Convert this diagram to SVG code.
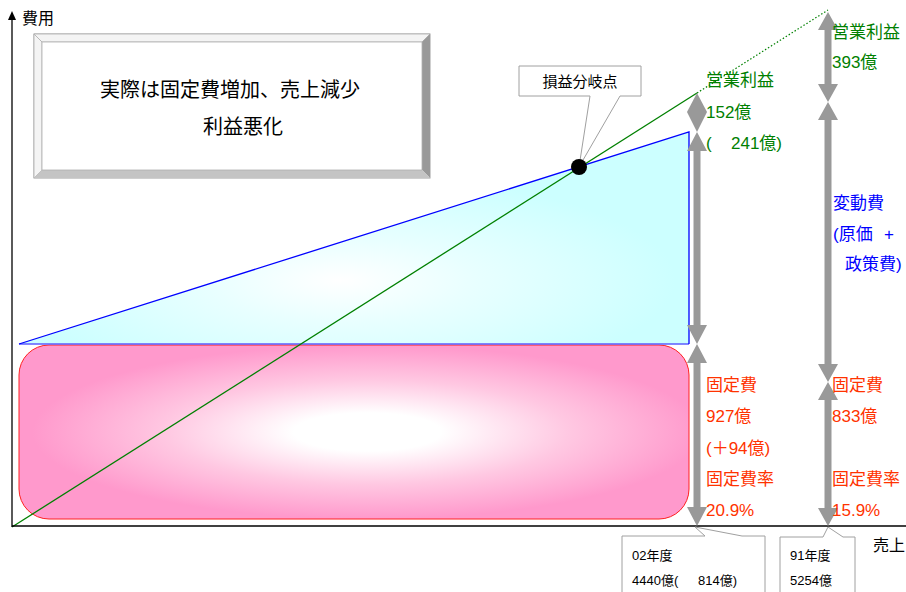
<svg xmlns="http://www.w3.org/2000/svg" width="906" height="592" viewBox="0 0 906 592">
<defs>
<style>
text{font-family:"Liberation Sans","Noto Sans CJK JP",sans-serif}
.lbl{font-size:17px}
.g{fill:#008000}
.b{fill:#0000ff}
.r{fill:#ff3300}
.k{fill:#000}
.sm{font-size:13px}
.arr{fill:#999999}
.call{fill:#ffffff;stroke:#a0a0a0;stroke-width:1}
</style>
<radialGradient id="pinkG" cx="0.52" cy="0.5" r="0.5">
<stop offset="0" stop-color="#ffffff"/>
<stop offset="0.22" stop-color="#ffffff"/>
<stop offset="0.6" stop-color="#ffc8e2"/>
<stop offset="1" stop-color="#ff99cc"/>
</radialGradient>
<radialGradient id="cyanG" cx="0.48" cy="0.7" r="0.5">
<stop offset="0" stop-color="#ffffff"/>
<stop offset="0.4" stop-color="#e8ffff"/>
<stop offset="1" stop-color="#ccffff"/>
</radialGradient>
</defs>
<rect width="906" height="592" fill="#ffffff"/>

<g id="fixed-cost-area">
<rect x="19" y="345" width="670" height="174" rx="30" ry="30" fill="url(#pinkG)" stroke="#ff2020" stroke-width="1"/>
</g>

<g id="variable-cost-area">
<polygon points="19,344 689,132 689,344" fill="url(#cyanG)"/>
<line x1="19" y1="344" x2="689" y2="344" stroke="#5c5cff" stroke-width="1.5"/>
<polyline points="19,344 689,132 689,344" fill="none" stroke="#0000ff" stroke-width="1.3"/>
</g>

<g id="connectors">
<line x1="12" y1="527" x2="697" y2="93" stroke="#008000" stroke-width="1.3"/>
<line x1="697" y1="93" x2="828" y2="10" stroke="#008000" stroke-width="1.2" stroke-dasharray="1.5 2"/>
<line x1="12" y1="527" x2="12" y2="18" stroke="#000" stroke-width="1.3"/>
<polygon points="12,11 16,20 8,20" fill="#000"/>
<line x1="12" y1="526" x2="906" y2="526" stroke="#000" stroke-width="1.3"/>
<polygon class="arr" points="697,93 707,112 697,132 687,112"/>
<polygon class="arr" points="697,132 707,151 700.5,151 700.5,325 707,325 697,344 687,325 693.5,325 693.5,151 687,151"/>
<polygon class="arr" points="697,344 707,363 700.5,363 700.5,507 707,507 697,526 687,507 693.5,507 693.5,363 687,363"/>
<polygon class="arr" points="828,12 838,30 831.5,30 831.5,84 838,84 828,102 818,84 824.5,84 824.5,30 818,30"/>
<polygon class="arr" points="828,102 838,120 831.5,120 831.5,364 838,364 828,382 818,364 824.5,364 824.5,120 818,120"/>
<polygon class="arr" points="828,382 838,400 831.5,400 831.5,508 838,508 828,526 818,508 824.5,508 824.5,400 818,400"/>
</g>

<g id="axis-labels">
<text class="k" x="22" y="24" font-size="16">費用</text>
<text class="k" x="873" y="551" font-size="16">売上</text>
</g>

<g id="title-box">
<rect x="34" y="34" width="396" height="144" fill="#ffffff" stroke="#a0a0a0" stroke-width="1"/>
<polygon points="34,34 430,34 422,42 42,42" fill="#f4f4f4" stroke="#b0b0b0" stroke-width="0.8"/>
<polygon points="34,34 42,42 42,170 34,178" fill="#f4f4f4" stroke="#b0b0b0" stroke-width="0.8"/>
<polygon points="430,34 430,178 422,170 422,42" fill="#999999"/>
<polygon points="34,178 430,178 422,170 42,170" fill="#c4c4c4"/>
<rect x="42" y="42" width="380" height="128" fill="#ffffff" stroke="#b0b0b0" stroke-width="0.8"/>
<text class="k" x="230" y="97" font-size="20" text-anchor="middle">実際は固定費増加、売上減少</text>
<text class="k" x="243" y="134" font-size="20" text-anchor="middle">利益悪化</text>
</g>

<g id="break-even-callout">
<path class="call" d="M519,66 H641 V96 H620 L579,167 L590,96 H519 Z"/>
<text class="k" x="580" y="87" font-size="15" text-anchor="middle">損益分岐点</text>
<circle cx="579" cy="167" r="8" fill="#000"/>
</g>

<g id="label-02-profit">
<text class="lbl g" x="706" y="86">営業利益</text>
<text class="lbl g" x="706" y="118">152億</text>
<text class="lbl g" x="706" y="149">(<tspan x="731">241億)</tspan></text>
</g>

<g id="label-02-fixed">
<text class="lbl r" x="706" y="391">固定費</text>
<text class="lbl r" x="706" y="422">927億</text>
<text class="lbl r" x="706" y="454">(＋94億)</text>
<text class="lbl r" x="706" y="485">固定費率</text>
<text class="lbl r" x="706" y="516">20.9%</text>
</g>

<g id="label-91-profit">
<text class="lbl g" x="832" y="38">営業利益</text>
<text class="lbl g" x="832" y="68">393億</text>
</g>

<g id="label-91-variable">
<text class="lbl b" x="833" y="209">変動費</text>
<text class="lbl b" x="833" y="240">(原価<tspan x="884">+</tspan></text>
<text class="lbl b" x="845" y="270">政策費)</text>
</g>

<g id="label-91-fixed">
<text class="lbl r" x="832" y="391">固定費</text>
<text class="lbl r" x="832" y="422">833億</text>
<text class="lbl r" x="832" y="485">固定費率</text>
<text class="lbl r" x="832" y="516">15.9%</text>
</g>

<g id="callout-02">
<path class="call" d="M622,593 V536 H705 L695,527 L742,536 H765 V593"/>
<text class="k sm" x="632" y="560">02年度</text>
<text class="k sm" x="632" y="585">4440億(<tspan x="698">814億)</tspan></text>
</g>

<g id="callout-91">
<path class="call" d="M780,593 V537 H823 L828,527 L843,537 H855 V593"/>
<text class="k sm" x="790" y="560">91年度</text>
<text class="k sm" x="790" y="585">5254億</text>
</g>
</svg>
